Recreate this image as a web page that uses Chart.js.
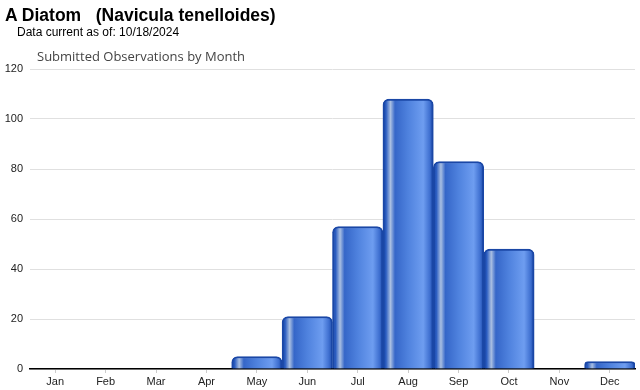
<!DOCTYPE html>
<html>
<head>
<meta charset="utf-8">
<script src="https://cdn.jsdelivr.net/npm/chart.js@4"></script>
<style>
  body { margin: 0; background: #fff; }
  #wrap { position: relative; width: 640px; height: 390px; }
  #wrap canvas { position: absolute; left: 0; top: 0; }
  .head { position: absolute; font-family: "Liberation Sans", Arial, sans-serif; color: #000; white-space: pre; }
  #name { left: 5px; top: 5px; font-size: 17.5px; font-weight: bold; }
  #asof { left: 17px; top: 25px; font-size: 12px; }
</style>
</head>
<body>
<div id="wrap">
  <canvas id="obs-chart" width="640" height="390"></canvas>
  <div class="head" id="name">A Diatom   (Navicula tenelloides)</div>
  <div class="head" id="asof">Data current as of: 10/18/2024</div>
</div>
<script>
const months = ["Jan", "Feb", "Mar", "Apr", "May", "Jun", "Jul", "Aug", "Sep", "Oct", "Nov", "Dec"];
const observations = [0, 0, 0, 0, 5, 21, 57, 108, 83, 48, 0, 3];
const yTicks = [0, 20, 40, 60, 80, 100, 120];
const chartTitle = "Submitted Observations by Month";

// horizontal "cylinder" shading across each bar
function barGradient(context) {
  const chart = context.chart;
  const xScale = chart.scales.x;
  if (!chart.chartArea || !xScale) return "#4a7ddc";
  const center = xScale.getPixelForValue(context.dataIndex);
  const half = (xScale.right - xScale.left) / months.length / 2;
  const g = chart.ctx.createLinearGradient(center - half, 0, center + half, 0);
  g.addColorStop(0, "#1a48a8");
  g.addColorStop(0.06, "#2a5cc0");
  g.addColorStop(0.15, "#a9bfe2");
  g.addColorStop(0.24, "#3566c8");
  g.addColorStop(0.5, "#4f82de");
  g.addColorStop(0.8, "#6e9df0");
  g.addColorStop(0.93, "#3e6fd0");
  g.addColorStop(1, "#1a48a8");
  return g;
}

// title sits a little in from the plot's left edge
const titlePlugin = {
  id: "leftTitle",
  afterDraw(chart) {
    const ctx = chart.ctx;
    ctx.save();
    ctx.font = "13px 'Open Sans', sans-serif";
    ctx.fillStyle = "#444";
    ctx.textBaseline = "middle";
    ctx.fillText(chartTitle, chart.chartArea.left + 7, 57);
    ctx.restore();
  },
};

new Chart(document.getElementById("obs-chart"), {
  type: "bar",
  data: {
    labels: months,
    datasets: [
      {
        label: "Observations",
        data: observations,
        backgroundColor: barGradient,
        borderColor: "#1a47a6",
        borderWidth: 2,
        borderRadius: 6,
        barPercentage: 1,
        categoryPercentage: 1,
      },
    ],
  },
  options: {
    responsive: false,
    animation: false,
    layout: { padding: { top: 69, right: 5, left: 0, bottom: 0 } },
    plugins: {
      legend: { display: false },
      tooltip: { enabled: false },
    },
    scales: {
      x: {
        afterFit: (scale) => { scale.height = 21; },
        grid: { offset: false, drawOnChartArea: false, drawTicks: true, tickLength: 4, color: "#ccc" },
        border: { display: true, color: "#000", width: 1.5 },
        ticks: {
          color: "#222",
          padding: 2,
          font: { family: "'Liberation Sans', Arial, sans-serif", size: 11 },
        },
      },
      y: {
        min: 0,
        max: 120,
        afterFit: (scale) => { scale.width = 30; },
        afterBuildTicks: (scale) => { scale.ticks = yTicks.map((v) => ({ value: v })); },
        grid: { color: "#e0e0e0", drawTicks: false },
        border: { display: false },
        ticks: {
          color: "#222",
          padding: 7,
          font: { family: "'Liberation Sans', Arial, sans-serif", size: 11 },
        },
      },
    },
  },
  plugins: [titlePlugin],
});
</script>
</body>
</html>
